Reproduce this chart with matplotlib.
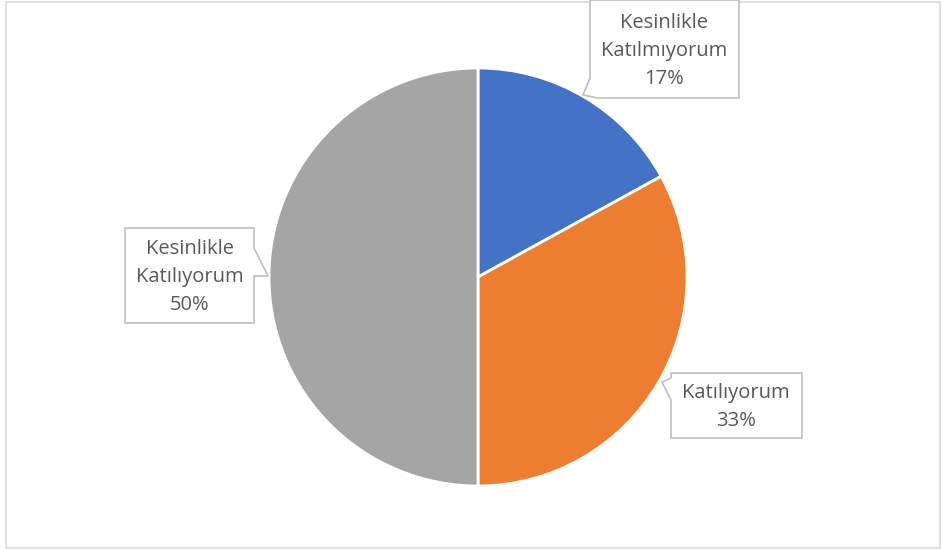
import matplotlib
matplotlib.use("Agg")
import matplotlib.pyplot as plt
from matplotlib.patches import Polygon, Rectangle

categories = ["Kesinlikle\nKatılmıyorum", "Katılıyorum", "Kesinlikle\nKatılıyorum"]
values = [17, 33, 50]
colors = ["#4472C4", "#ED7D31", "#A5A5A5"]

W, H = 941, 549
fig = plt.figure(figsize=(W / 100, H / 100), dpi=100)
ax = fig.add_axes([0, 0, 1, 1])
ax.set_xlim(0, W)
ax.set_ylim(0, H)
ax.set_aspect("equal")
ax.axis("off")

def Y(y):
    return H - y

# chart border
ax.add_patch(Rectangle((6.5, Y(548)), W - 7, 546, fill=False, edgecolor="#d9d9d9", lw=1.2))

ax.pie(values, colors=colors, startangle=90, counterclock=False,
       center=(478, Y(277)), radius=209, frame=True,
       wedgeprops=dict(edgecolor="white", linewidth=2))
ax.set_xlim(0, W)
ax.set_ylim(0, H)
ax.axis("off")

font = dict(family=["Open Sans", "DejaVu Sans"], size=14.5, color="#595959")

# callout boxes: (polygon in pixel coords, text center)
boxes = [
    ([(590, 0), (739, 0), (739, 98), (598, 98), (583, 95), (590, 78)], (664, 51)),
    ([(125, 228), (254, 228), (254, 248), (268, 276), (254, 276), (254, 323), (125, 323)], (190, 277)),
    ([(671, 373), (802, 373), (802, 438), (671, 438), (671, 400), (662, 382), (671, 378)], (736, 407)),
]
order = [0, 2, 1]  # map boxes to categories
pcts = ["{:.0f}%".format(v / sum(values) * 100) for v in values]
for (poly, (cx, cy)), idx in zip(boxes, order):
    ax.add_patch(Polygon([(x, Y(y)) for x, y in poly], closed=True,
                         facecolor="white", edgecolor="#bfbfbf", lw=1.2, zorder=5))
    ax.text(cx, Y(cy), categories[idx] + "\n" + pcts[idx], ha="center", va="center",
            linespacing=1.55, zorder=6, **font)

fig.savefig("out.png", dpi=100)
